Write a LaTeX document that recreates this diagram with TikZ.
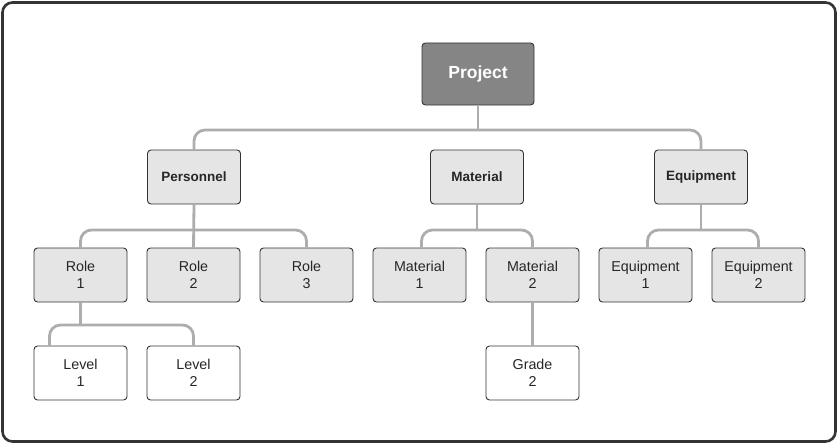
\documentclass[tikz,border=0pt]{standalone}
\usepackage{fontspec}
\setmainfont{Liberation Sans}
\begin{document}
\begin{tikzpicture}[x=1pt,y=-1pt,
  box/.style={draw=black!80,line width=0.9pt,rounded corners=3.5pt,minimum width=93pt,minimum height=54pt,inner sep=0pt,align=center,font=\fontsize{14.3}{17}\selectfont,text=black!85},
  mid/.style={box,fill=black!10},
  leaf/.style={box,fill=white},
  top/.style={box,fill=black!48,minimum width=112pt,minimum height=62pt,text=white,font=\fontsize{17.5}{20}\selectfont\bfseries},
  sec/.style={mid,font=\fontsize{13.5}{16}\selectfont\bfseries},
  link/.style={draw=black!32,line width=2.8pt,rounded corners=11pt}]
\useasboundingbox (0,0) rectangle (838,444);
\draw[line width=2.6pt,draw=black!80,rounded corners=10pt] (2.5,2.5) rectangle (835.5,441.5);
% nodes
\node[top] (proj) at (478,74) {Project};
\node[sec] (pers) at (194,177) {Personnel};
\node[sec] (mat) at (477,177) {Material};
\node[sec] (eq) at (701,177) {Equipment};
\node[mid] (r1) at (80.5,275) {Role\\1};
\node[mid] (r2) at (193.5,275) {Role\\2};
\node[mid] (r3) at (306.5,275) {Role\\3};
\node[mid] (m1) at (419.5,275) {Material\\1};
\node[mid] (m2) at (532.5,275) {Material\\2};
\node[mid] (e1) at (645.5,275) {Equipment\\1};
\node[mid] (e2) at (758.5,275) {Equipment\\2};
\node[leaf] (l1) at (80.5,373) {Level\\1};
\node[leaf] (l2) at (193.5,373) {Level\\2};
\node[leaf] (g2) at (532.5,373) {Grade\\2};
% connector anchors
\coordinate (l1leg) at ([xshift=-31pt]l1.north);
\coordinate (m1leg) at ([xshift=2pt]m1.north);
\coordinate (e1leg) at ([xshift=2pt]e1.north);
% connectors
\draw[link] (proj.south) -- (proj.south |- 0,130);
\draw[link] (pers.north) -- (pers.north |- 0,130) -- (eq.north |- 0,130) -- (eq.north);
\draw[link] (pers.south) -- (pers.south |- 0,230);
\draw[link] (r1.north) -- (r1.north |- 0,230) -- (r3.north |- 0,230) -- (r3.north);
\draw[link] (r2.north) -- (pers.south);
\draw[link] (mat.south) -- (mat.south |- 0,230);
\draw[link] (m1leg) -- (m1leg |- 0,230) -- (m2.north |- 0,230) -- (m2.north);
\draw[link] (eq.south) -- (eq.south |- 0,230);
\draw[link] (e1leg) -- (e1leg |- 0,230) -- (e2.north |- 0,230) -- (e2.north);
\draw[link] (r1.south) -- (r1.south |- 0,325);
\draw[link] (l1leg) -- (l1leg |- 0,325) -- (l2.north |- 0,325) -- (l2.north);
\draw[link] (m2.south) -- (g2.north);
\end{tikzpicture}
\end{document}
